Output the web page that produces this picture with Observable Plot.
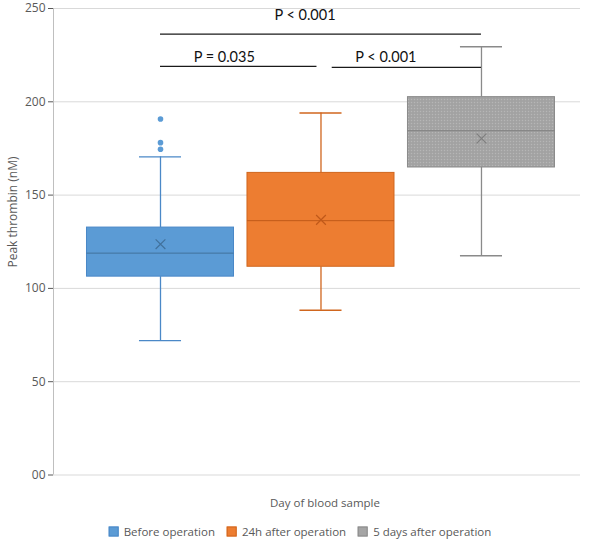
<!DOCTYPE html>
<html>
<head>
<meta charset="utf-8">
<script src="https://cdn.jsdelivr.net/npm/d3@7"></script>
<script src="https://cdn.jsdelivr.net/npm/@observablehq/plot@0.6"></script>
<style>
  html, body { margin: 0; padding: 0; background: #fff; }
  #wrap { position: relative; width: 600px; height: 542px; font-family: "Open Sans", sans-serif; color: #595959; }
  #ylabel { position: absolute; left: 12px; top: 212px; transform: translate(-50%, -50%) rotate(-90deg); font-size: 12px; white-space: nowrap; }
  #xlabel { position: absolute; left: 325px; top: 502px; transform: translate(-50%, -50%); font-size: 11.5px; white-space: nowrap; }
  #legend { position: absolute; left: 300px; top: 531px; transform: translate(-50%, -50%); font-size: 11.5px; white-space: nowrap; display: flex; align-items: center; }
  #legend .item { display: flex; align-items: center; margin: 0 6px; }
  #legend .sw { width: 10px; height: 10px; margin-right: 5px; box-sizing: border-box; }
  svg g[aria-label="y-axis"] path, svg g[aria-label="y-axis"] line { stroke: #bfbfbf; }
</style>
</head>
<body>
<div id="wrap">
  <div id="chart"></div>
  <div id="ylabel">Peak thrombin (nM)</div>
  <div id="xlabel">Day of blood sample</div>
  <div id="legend"></div>
</div>
<script>
// ---- data ----
const groups = ["Before operation", "24h after operation", "5 days after operation"];
const whiskerLow = [72, 88.3, 117.5];
const q1 = [106.3, 111.6, 164.8];
const median = [118.9, 136.3, 184.5];
const q3 = [132.6, 161.9, 202.5];
const whiskerHigh = [170.5, 194.0, 229.5];
const mean = [123.7, 136.7, 180.3];
const outlierGroup = ["Before operation", "Before operation", "Before operation"];
const outlierValue = [190.8, 178.1, 174.6];
const yTicks = [0, 50, 100, 150, 200, 250];
const yTickLabels = ["00", "50", "100", "150", "200", "250"];
const cmpFrom = ["Before operation", "Before operation", "24h after operation"];
const cmpTo = ["5 days after operation", "24h after operation", "5 days after operation"];
const cmpY = [236.3, 219.0, 218.5];
const cmpLabel = ["P < 0.001", "P = 0.035", "P < 0.001"];

// ---- styles ----
const fills = ["#5b9bd5", "#ed7d31", "#a5a5a5"];
const strokes = ["#4a88c7", "#d0661e", "#8a8a8a"];
const darks = ["#41719c", "#c0591a", "#7f7f7f"];
const halfBox = 0.458, halfCap = 0.131;
const cmpTrim = [[0, 0], [0, -0.025], [0.07, 0]];   // line end trims (in group units)
const cmpTextDx = [-16, -14.5, -21];               // label offsets (px)
const cmpTextDy = [-19, -8.5, -9.5];

const pos = g => groups.indexOf(g) + 1;
const boxes = groups.map((g, i) => ({
  group: g, pos: i + 1, lo: whiskerLow[i], q1: q1[i], med: median[i], q3: q3[i],
  hi: whiskerHigh[i], mean: mean[i], fill: fills[i], stroke: strokes[i], dark: darks[i]
}));
const outliers = outlierGroup.map((g, i) => ({pos: pos(g), v: outlierValue[i], fill: fills[groups.indexOf(g)]}));
const cmps = cmpFrom.map((f, i) => {
  const a = pos(f) + cmpTrim[i][0], b = pos(cmpTo[i]) + cmpTrim[i][1];
  return {x1: a, x2: b, xm: (a + b) / 2, y: cmpY[i], label: cmpLabel[i], dx: cmpTextDx[i], dy: cmpTextDy[i]};
});

const x0 = 0.3333;
const chart = Plot.plot({
  width: 600,
  height: 485,
  marginLeft: 53,
  marginRight: 20,
  marginTop: 8,
  marginBottom: 10.5,
  style: {fontFamily: "'Open Sans', sans-serif", fontSize: "12px", color: "#595959", background: "white", overflow: "visible"},
  x: {domain: [x0, 3.617], axis: null},
  y: {domain: [0, 250], ticks: yTicks, tickFormat: d => yTickLabels[yTicks.indexOf(d)], tickSize: 5, tickPadding: 3, label: null},
  marks: [
    Plot.ruleY(yTicks, {stroke: "#d9d9d9", strokeWidth: 1}),
    Plot.ruleX([x0], {stroke: "#bfbfbf"}),
    Plot.ruleX(boxes, {x: "pos", y1: "lo", y2: "q1", stroke: "stroke", strokeWidth: 1.3}),
    Plot.ruleX(boxes, {x: "pos", y1: "q3", y2: "hi", stroke: "stroke", strokeWidth: 1.3}),
    Plot.ruleY(boxes, {y: "lo", x1: d => d.pos - halfCap, x2: d => d.pos + halfCap, stroke: "stroke", strokeWidth: 1.3}),
    Plot.ruleY(boxes, {y: "hi", x1: d => d.pos - halfCap, x2: d => d.pos + halfCap, stroke: "stroke", strokeWidth: 1.3}),
    Plot.rectY(boxes, {x1: d => d.pos - halfBox, x2: d => d.pos + halfBox, y1: "q1", y2: "q3", fill: "fill", stroke: "stroke", strokeWidth: 1}),
    Plot.ruleY(boxes, {y: "med", x1: d => d.pos - halfBox, x2: d => d.pos + halfBox, stroke: "dark", strokeWidth: 1}),
    Plot.dot(boxes, {x: "pos", y: "mean", symbol: "times", r: 4.5, stroke: "dark", strokeWidth: 1.2}),
    Plot.dot(outliers, {x: "pos", y: "v", r: 2.8, fill: "fill", stroke: "none"}),
    Plot.ruleY(cmps, {y: "y", x1: "x1", x2: "x2", stroke: "#1a1a1a", strokeWidth: 1.3}),
    Plot.text(cmps, {x: "xm", y: "y", text: "label", fontSize: 14.5, fontFamily: "Lato, sans-serif", fill: "#111"})
  ]
});
document.getElementById("chart").appendChild(chart);

// per-label pixel offsets
chart.querySelectorAll('g[aria-label="text"] text').forEach((t, i) => {
  const c = cmps[i];
  const cur = t.getAttribute("transform") || "";
  t.setAttribute("transform", cur + ` translate(${c.dx},${c.dy})`);
});

// stippled texture for the grey box
const ns = "http://www.w3.org/2000/svg";
const defs = document.createElementNS(ns, "defs");
defs.innerHTML = `<pattern id="stipple" width="3" height="3" patternUnits="userSpaceOnUse">
  <rect width="3" height="3" fill="#a5a5a5"/>
  <rect x="0" y="0" width="1" height="1" fill="#b6b6b6"/>
  <rect x="1.5" y="1.5" width="1" height="1" fill="#989898"/>
</pattern>`;
chart.insertBefore(defs, chart.firstChild);
const rects = chart.querySelectorAll('g[aria-label="rect"] rect');
if (rects[2]) rects[2].setAttribute("fill", "url(#stipple)");

// legend
const legend = document.getElementById("legend");
groups.forEach((g, i) => {
  const item = document.createElement("div");
  item.className = "item";
  const sw = document.createElement("div");
  sw.className = "sw";
  sw.style.background = fills[i];
  sw.style.border = `1px solid ${strokes[i]}`;
  const lab = document.createElement("span");
  lab.textContent = g;
  item.appendChild(sw);
  item.appendChild(lab);
  legend.appendChild(item);
});
</script>
</body>
</html>
